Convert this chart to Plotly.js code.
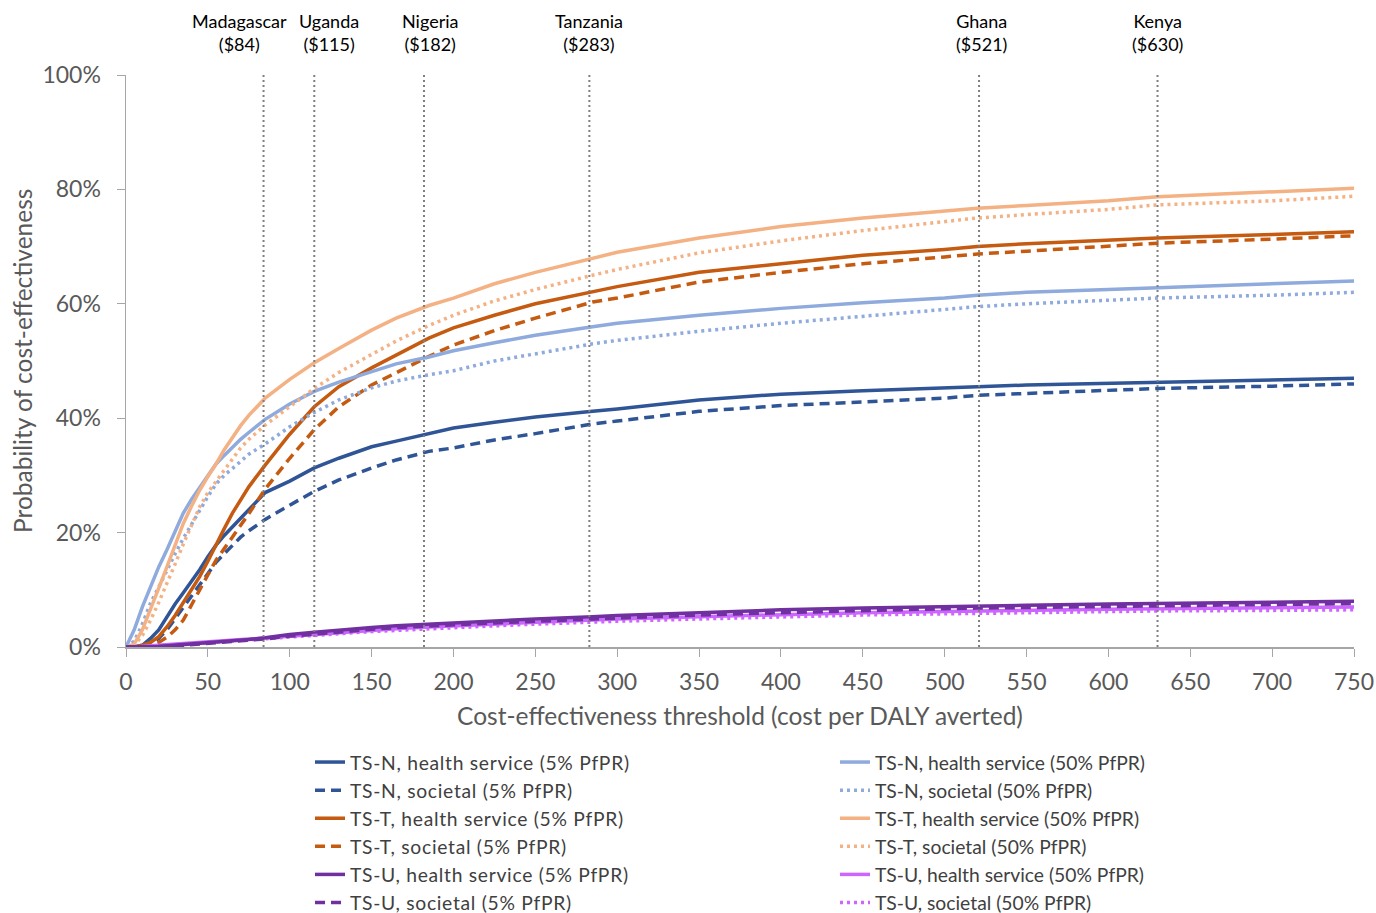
<!DOCTYPE html>
<html>
<head>
<meta charset="utf-8">
<script src="https://cdn.plot.ly/plotly-3.0.1.min.js"></script>
<style>html,body{margin:0;padding:0;background:#fff;}#chart{width:1376px;height:913px;}
.legendtext{letter-spacing:0.7px;}</style>
</head>
<body>
<div id="chart"></div>
<script>
// Thresholds (cost per DALY averted)
const thresholds = [0,5,10,15,20,25,30,35,40,45,50,55,60,65,70,75,85,100,115,130,150,165,185,200,225,250,285,300,350,400,450,500,520,550,600,630,700,750];

// Probability of cost-effectiveness (%)
const tsN_hs_5  = [0,0,0.3,1.5,3,5.3,7.5,9.5,11.5,13.5,15.8,17.8,19.5,21,22.5,24,27,29,31.3,33,35,36,37.3,38.3,39.3,40.2,41.2,41.6,43.2,44.2,44.8,45.2,45.5,45.8,46.1,46.4,46.7,47.0];
const tsN_hs_50 = [0,3,7,10.5,14,17,20.3,23.4,25.8,27.8,29.8,32,33.5,35,36.3,37.5,39.8,42.5,44.7,46.3,48.2,49.5,50.7,51.8,53.2,54.5,56,56.6,58,59.2,60.2,61,61.5,62,62.5,62.8,63.4,64];
const tsN_so_5  = [0,0,0,0.5,1.5,3,5,7,9,11,13,14.8,16.3,17.8,19.2,20.3,22.3,24.8,27.2,29.2,31.3,32.7,34.2,34.8,36.2,37.3,39,39.5,41.2,42.2,42.8,43.5,44,44.3,44.8,45.2,45.6,46.0];
const tsN_so_50 = [0,1,4,7.7,10.5,13.5,16.3,19,21.5,24,26.3,28.5,30,31.2,32.5,33.7,35.5,38.5,41,43.2,45.3,46.5,47.6,48.3,50,51.3,53,53.6,55.2,56.6,57.8,58.9,59.5,60,60.6,61,61.5,62];
const tsT_hs_5  = [0,0,0.3,0.8,1.8,3.5,5.5,7.7,10,12.3,15,18,20.7,23.4,25.8,28,31.8,37.2,42,45.5,48.8,51,54,55.8,58,60,62.2,63,65.5,67,68.5,69.5,70,70.5,71.1,71.5,72.1,72.6];
const tsT_hs_50 = [0,0.5,3,6.5,10.3,14,17.8,21.6,24.6,27.4,29.8,32,34.5,36.7,38.7,40.5,43.5,46.8,49.7,52.2,55.4,57.5,59.7,61,63.5,65.5,68,69,71.5,73.5,75,76.3,76.7,77.2,78,78.7,79.5,80.2];
const tsT_so_5  = [0,0,0,0.3,0.8,1.7,3,4.7,7.2,10,12.6,15.2,17.2,19.2,21.3,23.3,27.6,33,38,42,45.8,48,50.8,52.8,55.3,57.5,60.3,61,63.8,65.5,67,68.2,68.7,69.2,70,70.6,71.3,71.9];
const tsT_so_50 = [0,0.3,2,4.7,7.8,11,14.5,18,21.3,24.5,27,29,31,33,34.8,36.3,38.8,42,45.2,48,51.2,53.5,56.2,58,60.5,62.5,65,66,68.9,71,72.8,74.3,75,75.6,76.5,77.3,78,78.8];
const tsU_hs_5  = [0,0,0,0,0.1,0.2,0.3,0.4,0.5,0.6,0.7,0.8,0.9,1.0,1.1,1.3,1.6,2.2,2.6,3.0,3.4,3.7,4.0,4.3,4.6,4.9,5.3,5.5,6.0,6.5,6.8,7.1,7.2,7.3,7.5,7.6,7.8,8.0];
const tsU_hs_50 = [0,0,0.1,0.2,0.3,0.4,0.5,0.6,0.7,0.8,0.9,1.0,1.1,1.2,1.3,1.4,1.6,1.9,2.2,2.6,2.9,3.2,3.5,3.7,4.0,4.3,4.7,4.9,5.3,5.7,6.0,6.2,6.3,6.4,6.6,6.7,6.9,7.0];
const tsU_so_5  = [0,0,0,0,0,0.1,0.2,0.3,0.4,0.5,0.6,0.7,0.8,0.9,1.0,1.1,1.4,1.9,2.3,2.7,3.1,3.4,3.7,3.9,4.2,4.5,4.9,5.1,5.6,6.0,6.4,6.7,6.8,6.9,7.1,7.2,7.4,7.6];
const tsU_so_50 = [0,0,0,0.1,0.2,0.3,0.4,0.5,0.6,0.7,0.8,0.9,1.0,1.1,1.2,1.3,1.5,1.8,2.1,2.4,2.7,2.9,3.2,3.4,3.7,4.0,4.4,4.5,4.9,5.3,5.6,5.8,5.9,6.0,6.2,6.3,6.4,6.5];

// Country thresholds
const countries = ['Madagascar','Uganda','Nigeria','Tanzania','Ghana','Kenya'];
const countryThresholds = [84,115,182,283,521,630];
const countryLabelShift = [-24,15,6,0,2,0];

const FONT = 'Lato, "Open Sans", sans-serif';
const C = {
  dblue:'#2F5597', lblue:'#8FAADC', dorange:'#C55A11', lorange:'#F4B183', dpurple:'#7030A0', pink:'#CC66FF'
};
const DASH = '10px,6px', DOT = '3px,4px', W = 3.5;

function tr(name, y, color, dash, legend, group){
  return {x: thresholds, y: y, name: name, type:'scatter', mode:'lines',
    line:{color:color, width:W, dash:dash}, legend: legend, legendgroup: group, hoverinfo:'skip'};
}

const traces = [
  tr('TS-N, health service (5% PfPR)', tsN_hs_5, C.dblue, 'solid', 'legend', 'a1'),
  tr('TS-N, societal (5% PfPR)', tsN_so_5, C.dblue, DASH, 'legend', 'a2'),
  tr('TS-T, health service (5% PfPR)', tsT_hs_5, C.dorange, 'solid', 'legend', 'a3'),
  tr('TS-T, societal (5% PfPR)', tsT_so_5, C.dorange, DASH, 'legend', 'a4'),
  tr('TS-N, health service (50% PfPR)', tsN_hs_50, C.lblue, 'solid', 'legend2', 'b1'),
  tr('TS-N, societal (50% PfPR)', tsN_so_50, C.lblue, DOT, 'legend2', 'b2'),
  tr('TS-T, health service (50% PfPR)', tsT_hs_50, C.lorange, 'solid', 'legend2', 'b3'),
  tr('TS-T, societal (50% PfPR)', tsT_so_50, C.lorange, DOT, 'legend2', 'b4'),
  tr('TS-U, health service (50% PfPR)', tsU_hs_50, C.pink, 'solid', 'legend2', 'b5'),
  tr('TS-U, societal (50% PfPR)', tsU_so_50, C.pink, DOT, 'legend2', 'b6'),
  tr('TS-U, health service (5% PfPR)', tsU_hs_5, C.dpurple, 'solid', 'legend', 'a5'),
  tr('TS-U, societal (5% PfPR)', tsU_so_5, C.dpurple, DASH, 'legend', 'a6'),
];
const rankOrder = ['a1','a2','a3','a4','a5','a6','b1','b2','b3','b4','b5','b6'];
traces.forEach(t => { t.legendrank = rankOrder.indexOf(t.legendgroup) + 1; });

const shapes = countryThresholds.map(v => ({
  type:'line', xref:'x', yref:'paper', x0:v, x1:v, y0:0, y1:1,
  line:{color:'#7F7F7F', width:2, dash:'2px,3px'}, layer:'above'
}));
const annotations = countries.map((c,i) => ({
  xref:'x', yref:'paper', x: countryThresholds[i], y: 1.075, xshift: countryLabelShift[i],
  text: c + '<br>($' + countryThresholds[i] + ')', showarrow:false,
  font:{family:FONT, size:18, color:'#000'}, xanchor:'center', yanchor:'middle', align:'center'
}));
annotations.push({
  xref:'paper', yref:'paper', x:0, xshift:-104, y:0.5, textangle:-90, showarrow:false,
  text:'Probability of cost-effectiveness', xanchor:'center', yanchor:'middle',
  font:{family:FONT, size:24.5, color:'#595959'}
});

const legendBase = {orientation:'v', yanchor:'top', xanchor:'left',
  bgcolor:'rgba(0,0,0,0)', font:{family:FONT, size:19.3, color:'#404040'}, tracegroupgap:0, traceorder:'grouped'};

const layout = {
  width:1376, height:913,
  margin:{l:126, r:22, t:75, b:266, autoexpand:false},
  paper_bgcolor:'#fff', plot_bgcolor:'#fff',
  font:{family:FONT, color:'#595959'},
  xaxis:{range:[0,750], tick0:0, dtick:50, showgrid:false, zeroline:false,
    showline:true, linecolor:'#A6A6A6', linewidth:1.5, ticks:'outside', ticklen:8, tickcolor:'#A6A6A6',
    tickfont:{family:FONT, size:23, color:'#595959'}, ticklabelstandoff:6,
    title:{text:'Cost-effectiveness threshold (cost per DALY averted)', font:{family:FONT, size:24.5, color:'#595959'}, standoff:14}},
  yaxis:{range:[0,100], tick0:0, dtick:20, ticksuffix:'%', showgrid:false, zeroline:false,
    showline:true, linecolor:'#A6A6A6', linewidth:1.5, ticks:'outside', ticklen:8, tickcolor:'#A6A6A6',
    tickfont:{family:FONT, size:23, color:'#595959'}, ticklabelstandoff:11},
  legend:Object.assign({}, legendBase, {x:(310-126)/1228, y:(647-743)/572}),
  legend2:Object.assign({}, legendBase, {x:(835-126)/1228, y:(647-743)/572}),
  shapes: shapes,
  annotations: annotations,
  showlegend:true
};

Plotly.newPlot('chart', traces, layout, {displayModeBar:false, staticPlot:true});
</script>
</body>
</html>
